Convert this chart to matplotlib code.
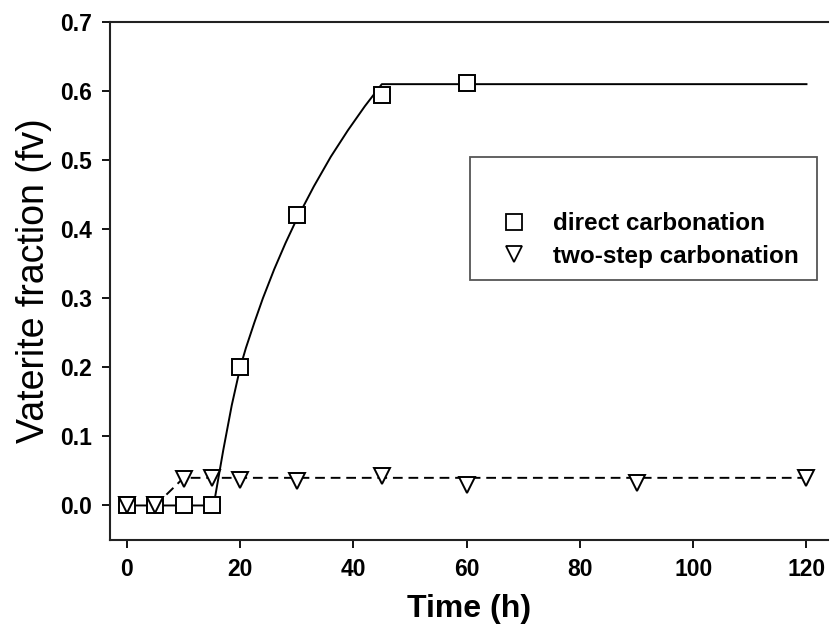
import matplotlib
matplotlib.use("Agg")
import matplotlib.pyplot as plt
from matplotlib.lines import Line2D
from matplotlib.patches import Rectangle

plt.rcParams['font.family'] = ['Liberation Sans', 'DejaVu Sans']

# measured points
time_direct = [0, 5, 10, 15, 20, 30, 45, 60]
fv_direct = [0.0, 0.0, 0.0, 0.0, 0.20, 0.42, 0.595, 0.612]

time_twostep = [0, 5, 10, 15, 20, 30, 45, 60, 90, 120]
fv_twostep = [0.0, 0.0, 0.038, 0.040, 0.037, 0.035, 0.042, 0.029, 0.032, 0.040]

# fitted curves
fit_direct_t = [0, 15.3, 17, 18.5, 20, 21, 22.5, 24, 26, 28, 30, 33, 36, 39, 42, 45, 120]
fit_direct_y = [0, 0, 0.08, 0.145, 0.2, 0.228, 0.265, 0.3, 0.342, 0.38, 0.415, 0.462, 0.505, 0.543, 0.578, 0.61, 0.61]
fit_twostep_t = [5, 10, 120]
fit_twostep_y = [0, 0.040, 0.040]

fig = plt.figure(figsize=(8.3, 6.28), dpi=100)
ax = fig.add_axes([110/830, 1-540/628, 718/830, 518/628])

ax.plot(fit_direct_t, fit_direct_y, color='black', lw=1.4)
ax.plot(fit_twostep_t, fit_twostep_y, color='black', lw=1.4, ls=(0, (5, 3)))
ax.plot(time_direct, fv_direct, ls='none', marker='s', ms=11.5, mfc='white', mec='black', mew=1.4)
ax.plot(time_twostep, fv_twostep, ls='none', marker='v', ms=11, mfc='white', mec='black', mew=1.4)

ax.set_xlim(-3, 123.8)
ax.set_ylim(-0.05, 0.7)
ax.set_xticks([0, 20, 40, 60, 80, 100, 120])
ax.set_yticks([0.0, 0.1, 0.2, 0.3, 0.4, 0.5, 0.6, 0.7])
ax.set_yticklabels(['0.0', '0.1', '0.2', '0.3', '0.4', '0.5', '0.6', '0.7'])
ax.spines['right'].set_visible(False)
for s in ['left', 'bottom', 'top']:
    ax.spines[s].set_linewidth(1.5)
    ax.spines[s].set_color('#222222')
ax.tick_params(direction='out', length=6, width=1.3, labelsize=16.5, pad=7)
for lab in ax.get_xticklabels() + ax.get_yticklabels():
    lab.set_fontweight('bold')

ax.set_xlabel('Time (h)', fontsize=23, fontweight='bold', labelpad=9)
ax.set_ylabel('Vaterite fraction (fv)', fontsize=27, labelpad=6)

# legend box drawn separately (text sits low inside the frame)
fig.patches.append(Rectangle((470/830, 1-280/628), 347/830, 123/628,
                             transform=fig.transFigure, fill=False,
                             edgecolor='#555555', lw=1.3, zorder=5))
handles = [
    Line2D([], [], ls='none', marker='s', ms=11, mfc='white', mec='black', mew=1.3),
    Line2D([], [], ls='none', marker='v', ms=11, mfc='white', mec='black', mew=1.3),
]
leg = ax.legend(handles, ['direct carbonation', 'two-step carbonation'],
                loc='center left', bbox_to_anchor=(470/830, 1-240/628),
                bbox_transform=fig.transFigure, borderaxespad=0, frameon=False,
                prop={'size': 17.5, 'weight': 'bold'},
                borderpad=1.4, handlelength=0.8, handletextpad=1.2,
                labelspacing=0.4)

fig.savefig('out.png', dpi=100)
